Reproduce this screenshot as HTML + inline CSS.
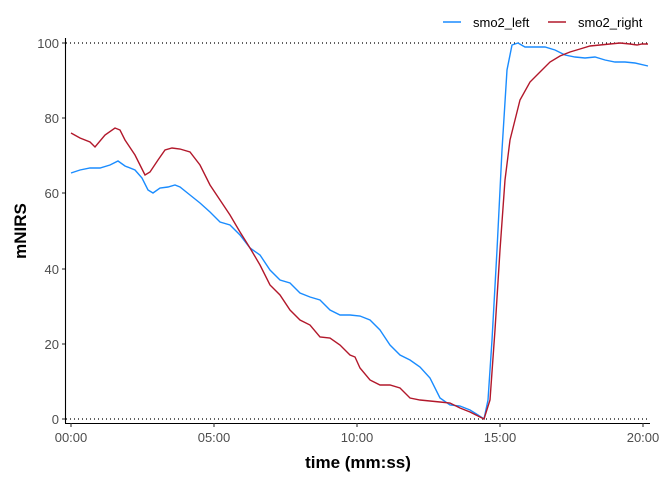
<!DOCTYPE html>
<html><head><meta charset="utf-8"><style>body{margin:0;background:#fff}svg{display:block}</style></head><body>
<svg width="672" height="480" xmlns="http://www.w3.org/2000/svg" font-family="Liberation Sans, sans-serif">
<rect width="672" height="480" fill="#fff"/>
<line x1="66" y1="43" x2="650" y2="43" stroke="#000" stroke-dasharray="1,3" stroke-width="1.2"/>
<line x1="66" y1="419" x2="650" y2="419" stroke="#000" stroke-dasharray="1,3" stroke-width="1.2"/>
<line x1="65.5" y1="38" x2="65.5" y2="423" stroke="#000" stroke-width="1.1"/>
<line x1="65" y1="423.5" x2="650" y2="423.5" stroke="#000" stroke-width="1.1"/>
<g stroke="#333" stroke-width="1.1">
<line x1="62" y1="419" x2="65" y2="419"/><line x1="62" y1="344" x2="65" y2="344"/><line x1="62" y1="269" x2="65" y2="269"/><line x1="62" y1="193" x2="65" y2="193"/><line x1="62" y1="118" x2="65" y2="118"/><line x1="62" y1="43" x2="65" y2="43"/>
<line x1="71" y1="423" x2="71" y2="427"/><line x1="214" y1="423" x2="214" y2="427"/><line x1="357" y1="423" x2="357" y2="427"/><line x1="500" y1="423" x2="500" y2="427"/><line x1="643" y1="423" x2="643" y2="427"/>
</g>
<g fill="#4d4d4d" font-size="13" text-anchor="end">
<text x="59" y="424">0</text><text x="59" y="349">20</text><text x="59" y="274">40</text><text x="59" y="198">60</text><text x="59" y="123">80</text><text x="59" y="48">100</text>
</g>
<g fill="#4d4d4d" font-size="13" text-anchor="middle">
<text x="71" y="442">00:00</text><text x="214" y="442">05:00</text><text x="357" y="442">10:00</text><text x="500" y="442">15:00</text><text x="643" y="442">20:00</text>
</g>
<text x="358" y="468" font-size="17" font-weight="bold" text-anchor="middle">time (mm:ss)</text>
<text transform="translate(26,231) rotate(-90)" font-size="17" font-weight="bold" text-anchor="middle">mNIRS</text>
<polyline fill="none" stroke="#1a8cff" stroke-width="1.4" points="71,173 80,170 90,168 100,168 110,165 118,161 125,166 135,170 142,178 148,190 153,193 160,188 168,187 175,185 180,187 190,195 200,203 210,212 220,222 230,225 240,235 250,248 260,255 270,270 280,280 290,283 300,293 310,297 320,300 330,310 340,315 350,315 360,316 370,320 380,330 390,345 400,355 410,360 420,367 430,378 440,398 450,405 460,406 470,410 478,415 484,419 488,400 492,340 497,250 502,150 507,70 512,45 518,43 525,47 535,47 545,47 555,50 565,55 575,57 585,58 595,57 605,60 615,62 625,62 635,63 648,66"/>
<polyline fill="none" stroke="#b2182b" stroke-width="1.4" points="71,133 80,138 90,142 95,147 105,135 115,128 120,130 125,140 135,155 140,165 145,175 150,172 158,160 165,150 172,148 180,149 190,152 200,165 210,185 220,200 230,215 240,232 250,248 260,265 270,285 280,295 290,310 300,320 310,325 320,337 330,338 340,345 350,355 355,357 360,368 370,380 380,385 390,385 400,388 410,398 420,400 430,401 440,402 450,403 460,408 470,412 478,416 484,419 490,400 495,330 500,250 505,180 510,140 515,120 520,100 530,82 540,72 550,62 560,56 570,52 580,49 590,46 600,45 610,44 620,43 630,44 637,45 642,44 648,44"/>
<line x1="443" y1="22" x2="461" y2="22" stroke="#1a8cff" stroke-width="1.6"/>
<text x="473" y="27" font-size="13">smo2_left</text>
<line x1="548" y1="22" x2="566" y2="22" stroke="#b2182b" stroke-width="1.6"/>
<text x="578" y="27" font-size="13">smo2_right</text>
</svg>
</body></html>
